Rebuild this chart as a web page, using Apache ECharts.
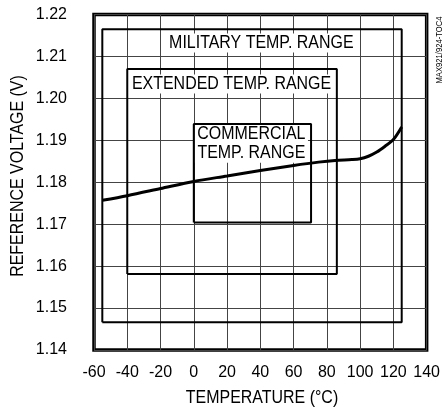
<!DOCTYPE html>
<html>
<head>
<meta charset="utf-8">
<script src="https://cdn.jsdelivr.net/npm/echarts@6/dist/echarts.min.js"></script>
<style>
  html, body { margin: 0; padding: 0; background: #fff; }
  #chart { width: 443px; height: 413px; }
</style>
</head>
<body>
<div id="chart"></div>
<script>
  // reference voltage vs temperature
  var temps = [-55, -40, -20, 0, 20, 40, 60, 75, 85, 95, 100, 105, 110, 115, 120, 125];
  var volts = [1.1757, 1.1768, 1.1785, 1.1802, 1.1815, 1.1828, 1.1840, 1.1848, 1.1852, 1.1854, 1.1856, 1.1862, 1.1872, 1.1886, 1.1902, 1.1932];

  // temperature range boxes: [xMin, xMax, yMin, yMax]
  var militaryBox = [-55, 125, 1.1466, 1.2165];
  var extendedBox = [-40, 86, 1.1581, 1.2070];
  var commercialBox = [0, 70.5, 1.1704, 1.1939];
  var boxNames = ['MILITARY TEMP. RANGE', 'EXTENDED TEMP. RANGE', 'COMMERCIAL\nTEMP. RANGE'];

  var xTicks = [-60, -40, -20, 0, 20, 40, 60, 80, 100, 120, 140];
  var yTicks = ['1.14', '1.15', '1.16', '1.17', '1.18', '1.19', '1.20', '1.21', '1.22'];

  var font = '"Liberation Sans", Arial, sans-serif';
  var narrow = 0.84; // squeeze text to look like a condensed face

  function boxPath(b) {
    return [[b[0], b[2]], [b[0], b[3]], [b[1], b[3]], [b[1], b[2]], [b[0], b[2]]];
  }
  function boxSeries(b) {
    return {
      type: 'line',
      data: boxPath(b),
      symbol: 'none',
      silent: true,
      z: 3,
      lineStyle: { color: '#000', width: 2 }
    };
  }

  var chart = echarts.init(document.getElementById('chart'));
  var line = temps.map(function (t, i) { return [t, volts[i]]; });

  var option = {
    animation: false,
    grid: {
      left: 94, right: 13, top: 14.5, bottom: 63,
      show: true, borderColor: '#000', borderWidth: 3.5, backgroundColor: 'transparent'
    },
    xAxis: {
      type: 'value', min: -60, max: 140, interval: 20,
      axisLine: { show: false },
      axisTick: { show: false },
      axisLabel: { color: '#000', fontSize: 16, fontFamily: font, margin: 15,
        formatter: function (v) { return xTicks.indexOf(v) >= 0 ? String(v) : ''; } },
      splitLine: { show: true, lineStyle: { color: '#444', width: 1 } }
    },
    yAxis: {
      type: 'value', min: 1.14, max: 1.22, interval: 0.01,
      axisLine: { show: false },
      axisTick: { show: false },
      axisLabel: { color: '#000', fontSize: 16, fontFamily: font, margin: 27,
        formatter: function (v) { return yTicks[Math.round((v - 1.14) / 0.01)]; } },
      splitLine: { show: true, lineStyle: { color: '#444', width: 1 } }
    },
    series: [
      boxSeries(militaryBox),
      boxSeries(extendedBox),
      boxSeries(commercialBox),
      {
        type: 'line',
        data: line,
        symbol: 'none',
        smooth: 0.3,
        z: 5,
        lineStyle: { color: '#000', width: 3 }
      }
    ]
  };
  chart.setOption(option);

  // range labels, centred at spots inside each box
  var labelSpots = [[40.6, 1.2132], [22.7, 1.2034], [34.6, 1.1892]];
  var graphics = labelSpots.map(function (s, i) {
    var p = chart.convertToPixel({ gridIndex: 0 }, s);
    return {
      type: 'text', x: p[0], y: p[1], scaleX: narrow, z: 2.5,
      style: {
        text: boxNames[i], fill: '#000', fontSize: 19, fontFamily: font,
        align: 'center', verticalAlign: 'middle', lineHeight: 19,
        backgroundColor: '#fff', padding: [0, 3]
      }
    };
  });
  graphics.push({
    type: 'text', x: 262, y: 398, scaleX: narrow,
    style: { text: 'TEMPERATURE (°C)', fill: '#000', fontSize: 19, fontFamily: font,
      align: 'center', verticalAlign: 'middle' }
  });
  graphics.push({
    type: 'text', x: 18, y: 176, rotation: Math.PI / 2, scaleX: narrow,
    style: { text: 'REFERENCE VOLTAGE (V)', fill: '#000', fontSize: 19, fontFamily: font,
      align: 'center', verticalAlign: 'middle' }
  });
  graphics.push({
    type: 'text', x: 440, y: 50, rotation: Math.PI / 2, scaleX: 0.9,
    style: { text: 'MAX921/924-TOC4', fill: '#000', fontSize: 8.5, fontFamily: font,
      align: 'center', verticalAlign: 'middle' }
  });
  chart.setOption({ graphic: graphics });
</script>
</body>
</html>
